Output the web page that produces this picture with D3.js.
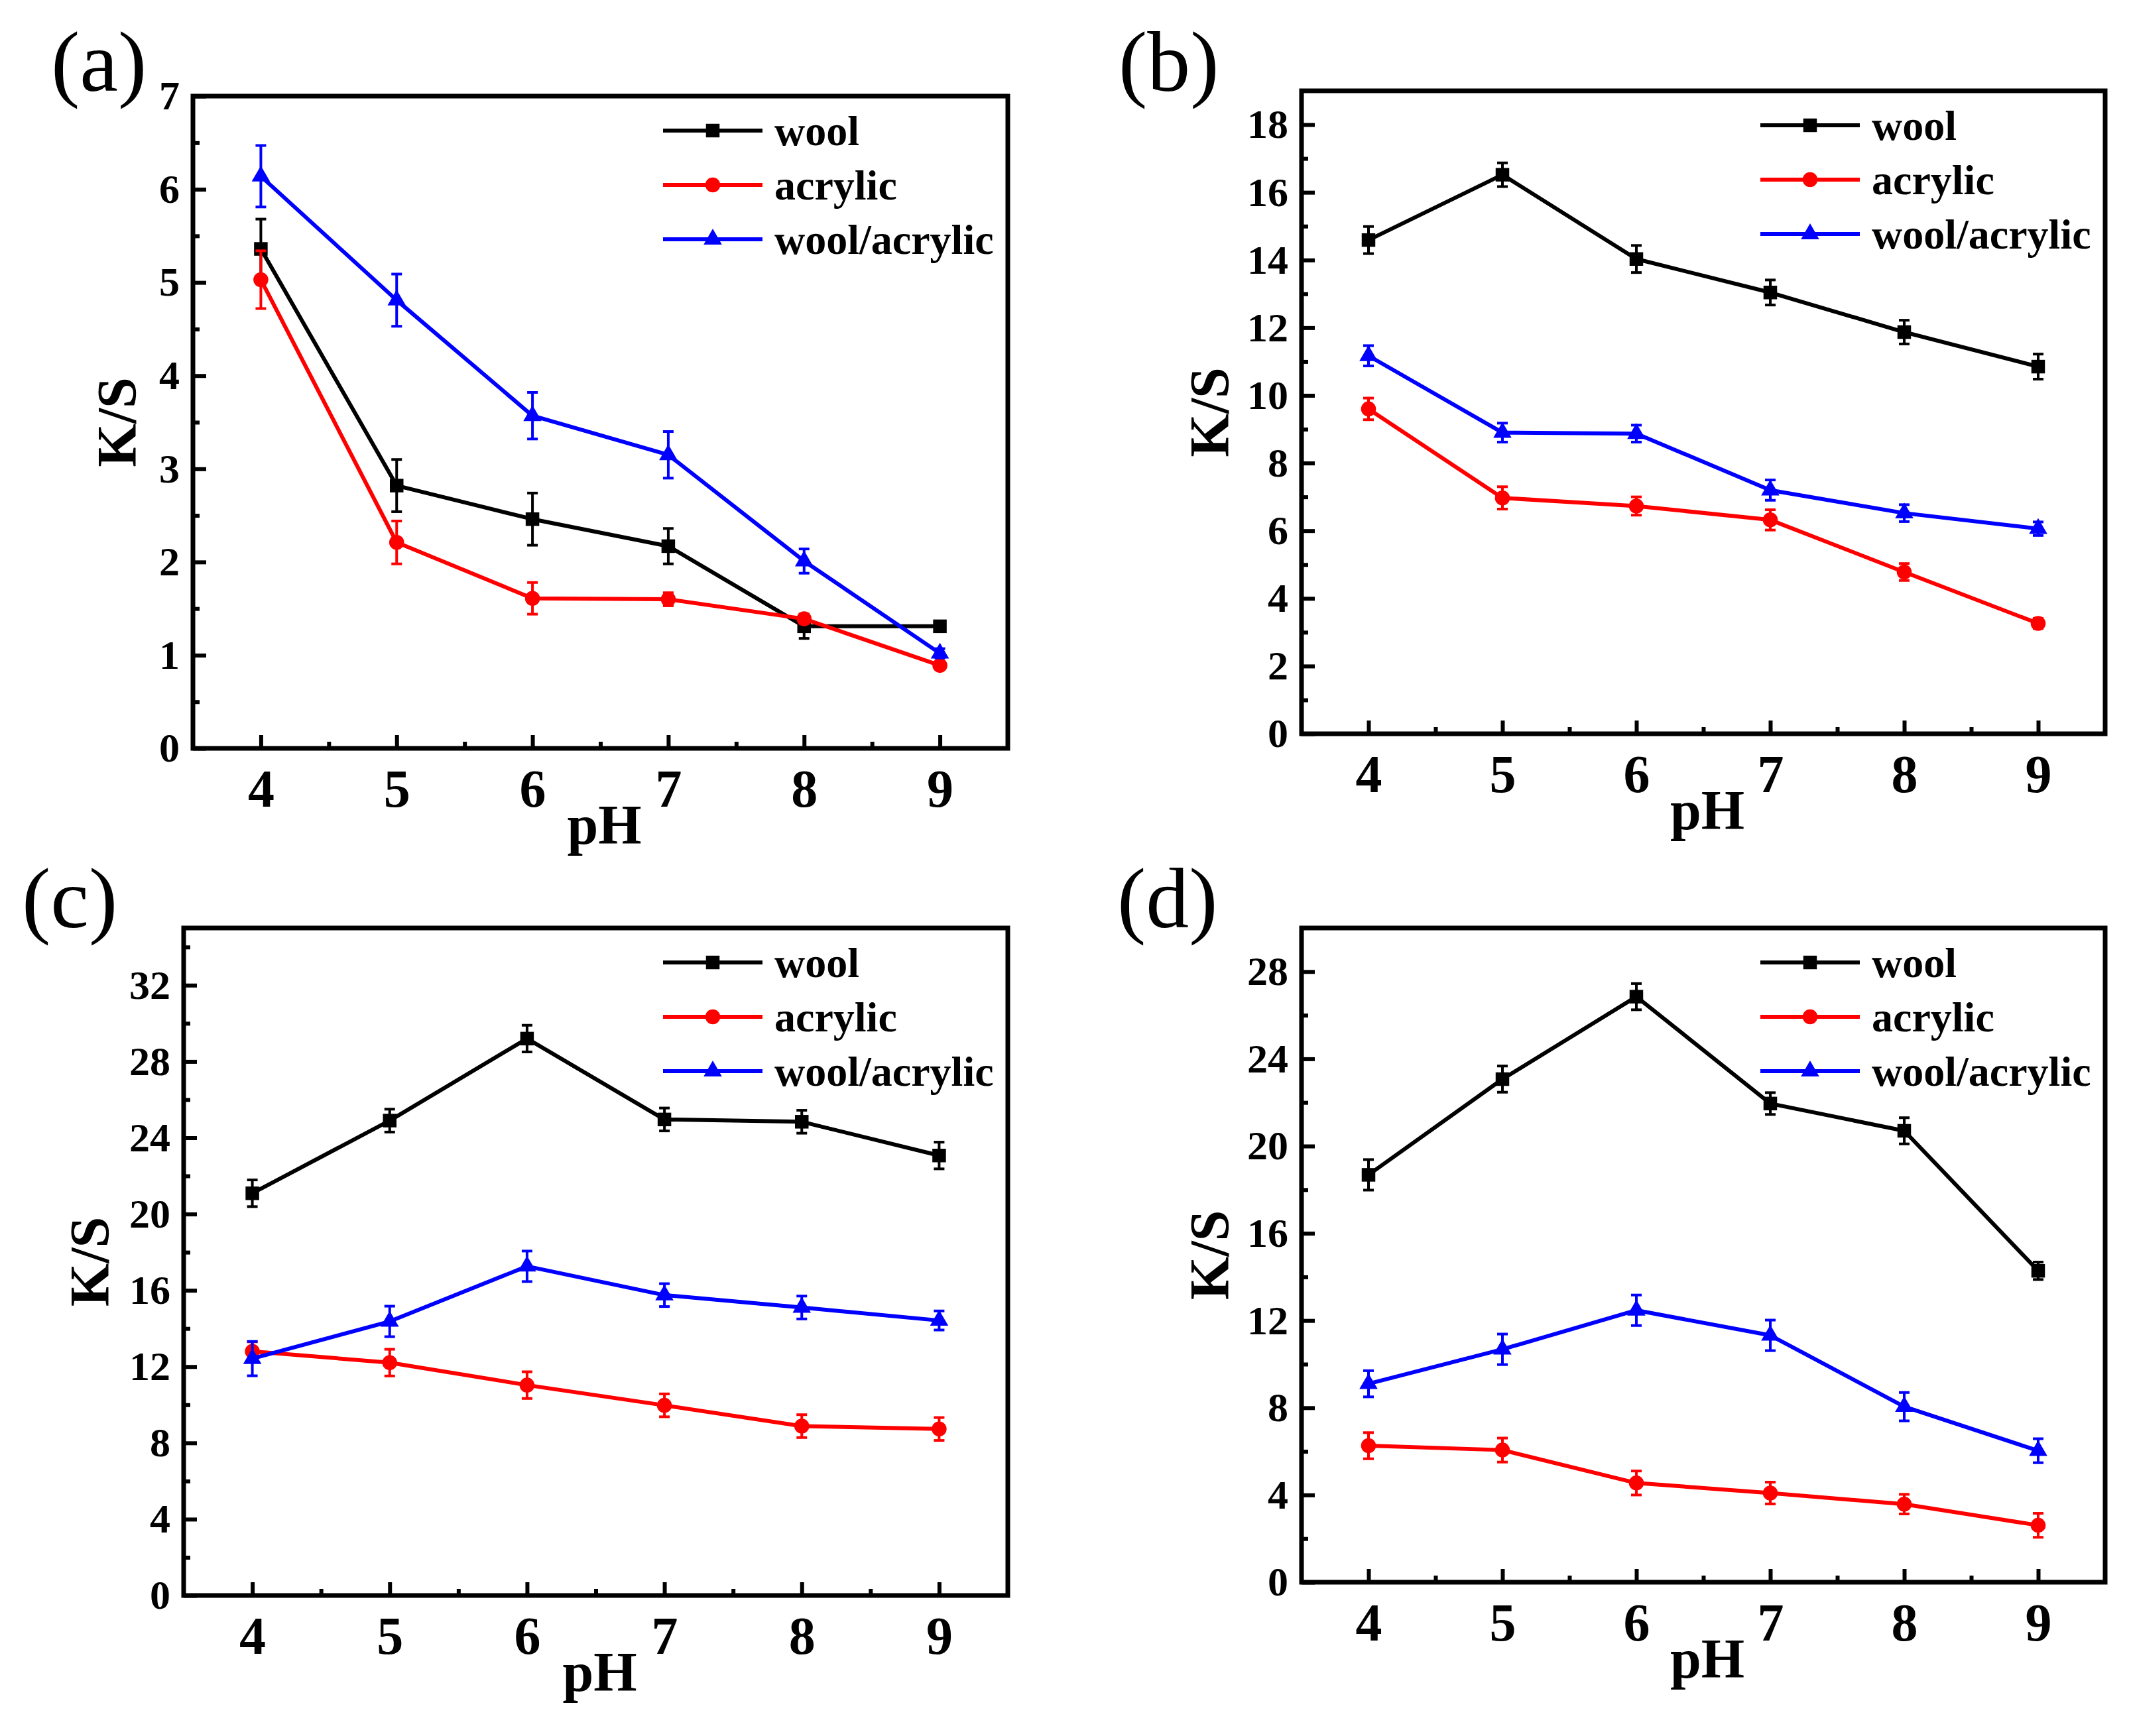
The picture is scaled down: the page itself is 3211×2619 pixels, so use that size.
<!DOCTYPE html>
<html>
<head>
<meta charset="utf-8">
<script src="https://cdn.jsdelivr.net/npm/d3@7"></script>
<style>
  body { margin: 0; background: #fff; }
  text { font-family: "Liberation Serif", "Times New Roman", serif; }
</style>
</head>
<body>
<script>
// canvas
const canvWidth = 3211, canvHeight = 2619;

// ---- data ----
const pHValues = [4, 5, 6, 7, 8, 9];
const seriesNames = ["wool", "acrylic", "wool/acrylic"];
const seriesColors = ["#000000", "#ff0000", "#0000ff"];

// (a)
const woolA = [5.36, 2.82, 2.46, 2.17, 1.31, 1.31];
const woolAErr = [0.32, 0.28, 0.28, 0.19, 0.13, 0.05];
const acrylicA = [5.03, 2.21, 1.61, 1.60, 1.39, 0.89];
const acrylicAErr = [0.31, 0.23, 0.17, 0.07, 0.05, 0.04];
const blendA = [6.14, 4.81, 3.57, 3.15, 2.01, 1.02];
const blendAErr = [0.33, 0.28, 0.25, 0.25, 0.13, 0.05];

// (b)
const woolB = [14.59, 16.52, 14.03, 13.04, 11.87, 10.85];
const woolBErr = [0.40, 0.35, 0.40, 0.37, 0.35, 0.37];
const acrylicB = [9.60, 6.97, 6.73, 6.32, 4.78, 3.26];
const acrylicBErr = [0.32, 0.33, 0.27, 0.30, 0.25, 0.15];
const blendB = [11.17, 8.90, 8.87, 7.20, 6.52, 6.06];
const blendBErr = [0.30, 0.28, 0.25, 0.30, 0.25, 0.20];

// (c)
const woolC = [21.09, 24.90, 29.20, 24.96, 24.84, 23.07];
const woolCErr = [0.7, 0.6, 0.7, 0.6, 0.6, 0.7];
const acrylicC = [12.80, 12.21, 11.03, 9.97, 8.88, 8.73];
const acrylicCErr = [0.5, 0.7, 0.7, 0.6, 0.6, 0.6];
const blendC = [12.42, 14.37, 17.26, 15.75, 15.10, 14.42];
const blendCErr = [0.9, 0.8, 0.8, 0.6, 0.6, 0.5];

// (d)
const woolD = [18.68, 23.07, 26.85, 21.95, 20.70, 14.28];
const woolDErr = [0.7, 0.6, 0.6, 0.5, 0.6, 0.4];
const acrylicD = [6.26, 6.06, 4.55, 4.09, 3.58, 2.61];
const acrylicDErr = [0.6, 0.55, 0.55, 0.5, 0.45, 0.55];
const blendD = [9.10, 10.68, 12.47, 11.32, 8.05, 6.03];
const blendDErr = [0.6, 0.7, 0.7, 0.7, 0.65, 0.55];

// tick labels
const xTicks = [4, 5, 6, 7, 8, 9];
const xMinorTicks = [4.5, 5.5, 6.5, 7.5, 8.5];
const yTicksA = [0, 1, 2, 3, 4, 5, 6, 7];
const yTicksB = [0, 2, 4, 6, 8, 10, 12, 14, 16, 18];
const yTicksC = [0, 4, 8, 12, 16, 20, 24, 28, 32];
const yTicksD = [0, 4, 8, 12, 16, 20, 24, 28];

const svg = d3.select("body").append("svg")
    .attr("width", canvWidth)
    .attr("height", canvHeight);

svg.append("rect").attr("width", canvWidth).attr("height", canvHeight).attr("fill", "#fff");

// panel layout
const panels = [
  {label: "(a)", labelX: 77, labelY: 137, left: 291, top: 145, right: 1520, bottom: 1129,
   yMax: 7, yTicks: yTicksA, yMinorStep: 0.5, yLabelOff: 86,
   values: [woolA, acrylicA, blendA], errors: [woolAErr, acrylicAErr, blendAErr]},
  {label: "(b)", labelX: 1687, labelY: 137, left: 1963, top: 137, right: 3175, bottom: 1107,
   yMax: 19, yTicks: yTicksB, yMinorStep: 1, yLabelOff: 110,
   values: [woolB, acrylicB, blendB], errors: [woolBErr, acrylicBErr, blendBErr]},
  {label: "(c)", labelX: 33, labelY: 1399, left: 277, top: 1400, right: 1520, bottom: 2407,
   yMax: 35, yTicks: yTicksC, yMinorStep: 2, yLabelOff: 113,
   values: [woolC, acrylicC, blendC], errors: [woolCErr, acrylicCErr, blendCErr]},
  {label: "(d)", labelX: 1685, labelY: 1399, left: 1963, top: 1400, right: 3175, bottom: 2387,
   yMax: 30, yTicks: yTicksD, yMinorStep: 2, yLabelOff: 110,
   values: [woolD, acrylicD, blendD], errors: [woolDErr, acrylicDErr, blendDErr]}
];

const symbols = [d3.symbolSquare, d3.symbolCircle, d3.symbolTriangle];
const symbolSizes = [420, 400, 330];

function drawMarker(g, i, x, y) {
  g.append("path")
    .attr("d", d3.symbol(symbols[i], symbolSizes[i])())
    .attr("transform", "translate(" + x + "," + y + ")")
    .attr("fill", seriesColors[i]);
}

panels.forEach(function (p) {
  const width = p.right - p.left;
  const height = p.bottom - p.top;
  const g = svg.append("g").attr("transform", "translate(" + p.left + "," + p.top + ")");

  const xScale = d3.scaleLinear().domain([3.5, 9.5]).range([0, width]);
  const yScale = d3.scaleLinear().domain([0, p.yMax]).range([height, 0]);

  // minor ticks (inward)
  const yMinor = d3.range(p.yMinorStep, p.yMax, p.yMinorStep).filter(v => !p.yTicks.includes(v));
  g.append("g")
    .call(d3.axisLeft(yScale).tickValues(yMinor).tickSize(-10).tickFormat(""))
    .call(a => a.select(".domain").remove())
    .selectAll("line").attr("stroke-width", 6);
  g.append("g")
    .attr("transform", "translate(0," + height + ")")
    .call(d3.axisBottom(xScale).tickValues(xMinorTicks).tickSize(-10).tickFormat(""))
    .call(a => a.select(".domain").remove())
    .selectAll("line").attr("stroke-width", 6);

  // major ticks + labels
  const yAx = g.append("g")
    .call(d3.axisLeft(yScale).tickValues(p.yTicks).tickSize(-20).tickPadding(20).tickFormat(d3.format("d")))
    .call(a => a.select(".domain").remove());
  yAx.selectAll("line").attr("stroke-width", 6);
  yAx.selectAll("text")
    .attr("font-size", 62).attr("font-weight", "bold")
    .attr("font-family", "Liberation Serif, serif").attr("fill", "#000");

  const xAx = g.append("g")
    .attr("transform", "translate(0," + height + ")")
    .call(d3.axisBottom(xScale).tickValues(xTicks).tickSize(-20).tickPadding(31).tickFormat(d3.format("d")))
    .call(a => a.select(".domain").remove());
  xAx.selectAll("line").attr("stroke-width", 6);
  xAx.selectAll("text")
    .attr("font-size", 80).attr("font-weight", "bold")
    .attr("font-family", "Liberation Serif, serif").attr("fill", "#000");

  // frame
  g.append("rect")
    .attr("x", 0).attr("y", 0).attr("width", width).attr("height", height)
    .attr("fill", "none").attr("stroke", "#000").attr("stroke-width", 7);

  // axis titles
  g.append("text")
    .attr("x", width / 2 + 6)
    .attr("y", height + 144)
    .attr("text-anchor", "middle")
    .attr("font-size", 84).attr("font-weight", "bold")
    .text("pH");

  g.append("text")
    .attr("transform", "translate(" + (-p.yLabelOff) + "," + (height / 2) + ") rotate(-90)")
    .attr("text-anchor", "middle")
    .attr("font-size", 84).attr("font-weight", "bold")
    .text("K/S");

  // panel label
  svg.append("text")
    .attr("x", p.labelX).attr("y", p.labelY)
    .attr("font-size", 130)
    .text(p.label);

  // series: lines, error bars, markers
  p.values.forEach(function (vals, i) {
    const pts = vals.map((v, k) => ({x: pHValues[k], y: v, e: p.errors[i][k]}));
    const line = d3.line().x(d => xScale(d.x)).y(d => yScale(d.y));
    g.append("path")
      .attr("d", line(pts))
      .attr("fill", "none")
      .attr("stroke", seriesColors[i])
      .attr("stroke-width", 6)
      .attr("stroke-linejoin", "round");

    const eb = g.append("g").attr("stroke", seriesColors[i]).attr("stroke-width", 4);
    pts.forEach(function (d) {
      const cx = xScale(d.x), y1 = yScale(d.y + d.e), y2 = yScale(d.y - d.e);
      eb.append("line").attr("x1", cx).attr("x2", cx).attr("y1", y1).attr("y2", y2);
      eb.append("line").attr("x1", cx - 8).attr("x2", cx + 8).attr("y1", y1).attr("y2", y1);
      eb.append("line").attr("x1", cx - 8).attr("x2", cx + 8).attr("y1", y2).attr("y2", y2);
    });

    pts.forEach(d => drawMarker(g, i, xScale(d.x), yScale(d.y)));
  });

  // legend
  const legend = g.append("g").attr("transform", "translate(" + (width - 520) + ",52)");
  seriesNames.forEach(function (name, i) {
    const ly = i * 82;
    legend.append("line")
      .attr("x1", 0).attr("x2", 150).attr("y1", ly).attr("y2", ly)
      .attr("stroke", seriesColors[i]).attr("stroke-width", 6);
    drawMarker(legend, i, 75, ly);
    legend.append("text")
      .attr("x", 168).attr("y", ly).attr("dy", "0.35em")
      .attr("font-size", 64).attr("font-weight", "bold")
      .text(name);
  });
});
</script>
</body>
</html>
